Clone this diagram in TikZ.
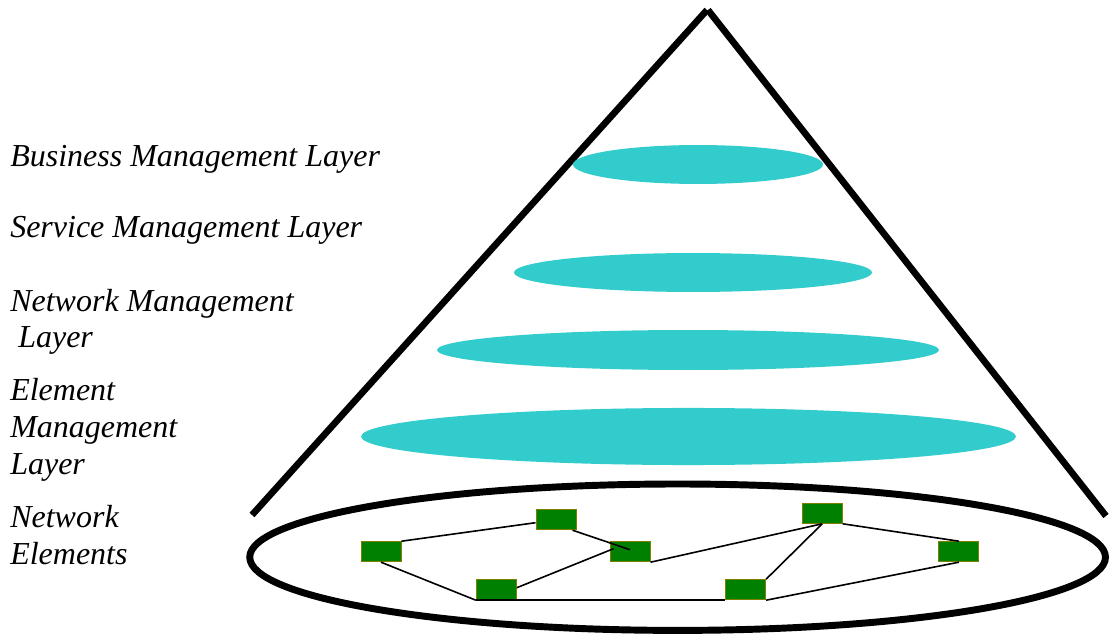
\documentclass[tikz,border=0pt]{standalone}
\usepackage{fontspec}
\setmainfont{Liberation Serif}
\usetikzlibrary{calc}
\definecolor{layercyan}{RGB}{51,204,204}
\definecolor{negreen}{RGB}{0,128,0}
\definecolor{neolive}{RGB}{128,128,0}
\begin{document}
\begin{tikzpicture}[x=0.75pt,y=-0.75pt,
  lbl/.style={anchor=base west,inner sep=0pt,font=\fontsize{24}{27.75}\selectfont\itshape},
  ne/.style={rectangle,draw=neolive,line width=0.75pt,fill=negreen,minimum width=30pt,minimum height=15pt,inner sep=0pt},
  link/.style={line width=1.2pt},
  conel/.style={line width=5pt,line cap=butt}]
\useasboundingbox (0,0) rectangle (1109,634);
% cone sides
\coordinate (apexL) at (707,10);
\coordinate (apexR) at (708,10);
\coordinate (baseL) at (252,515);
\coordinate (baseR) at (1106,516);
\draw[conel] (baseL) -- (apexL);
\draw[conel] (apexR) -- (baseR);
% layer discs
\fill[layercyan] (698,164.5) ellipse [x radius=93.75pt, y radius=14.6pt];
\fill[layercyan] (693,272.5) ellipse [x radius=134.25pt, y radius=14.6pt];
\fill[layercyan] (688,350) ellipse [x radius=188.25pt, y radius=15pt];
\fill[layercyan] (688.5,436.5) ellipse [x radius=245.6pt, y radius=21.4pt];
% base ellipse
\draw[line width=5.2pt] (677.6,557.2) ellipse [x radius=320.9pt, y radius=54.9pt];
% network elements
\node[ne] (A) at (381,551.7) {};
\node[ne] (B) at (556,519.7) {};
\node[ne] (C) at (630,551.7) {};
\node[ne] (D) at (496.3,589.7) {};
\node[ne] (E) at (745.6,589.7) {};
\node[ne] (F) at (822.2,513.3) {};
\node[ne] (G) at (958.9,551.7) {};
% links
\draw[link] (A.north east) -- ($(B.west)+(0,3)$);
\draw[link] ($(B.south east)+(-4,0)$) -- ($(C.center)+(0,-2)$);
\draw[link] (A.south) -- (D.south west);
\draw[link] ($(D.east)+(0,-2)$) -- ($(C.west)+(4,-3)$);
\draw[link] (C.south east) -- (F.south);
\draw[link] (F.south) -- (E.north east);
\draw[link] (F.south east) -- (G.north);
\draw[link] (G.south) -- (E.south east);
\draw[link] (D.south west) -- (E.south west);
% labels
\node[lbl] (bml) at (10,167) {Business Management Layer};
\node[lbl] (sml) at (10,237.5) {Service Management Layer};
\node[lbl] (nml) at (10,311) {\begin{tabular}[t]{@{}l@{}}Network Management\\ \ Layer\end{tabular}};
\node[lbl] (eml) at (10,400) {\begin{tabular}[t]{@{}l@{}}Element\\ Management\\ Layer\end{tabular}};
\node[lbl] (nel) at (10,527) {\begin{tabular}[t]{@{}l@{}}Network\\ Elements\end{tabular}};
\end{tikzpicture}
\end{document}
